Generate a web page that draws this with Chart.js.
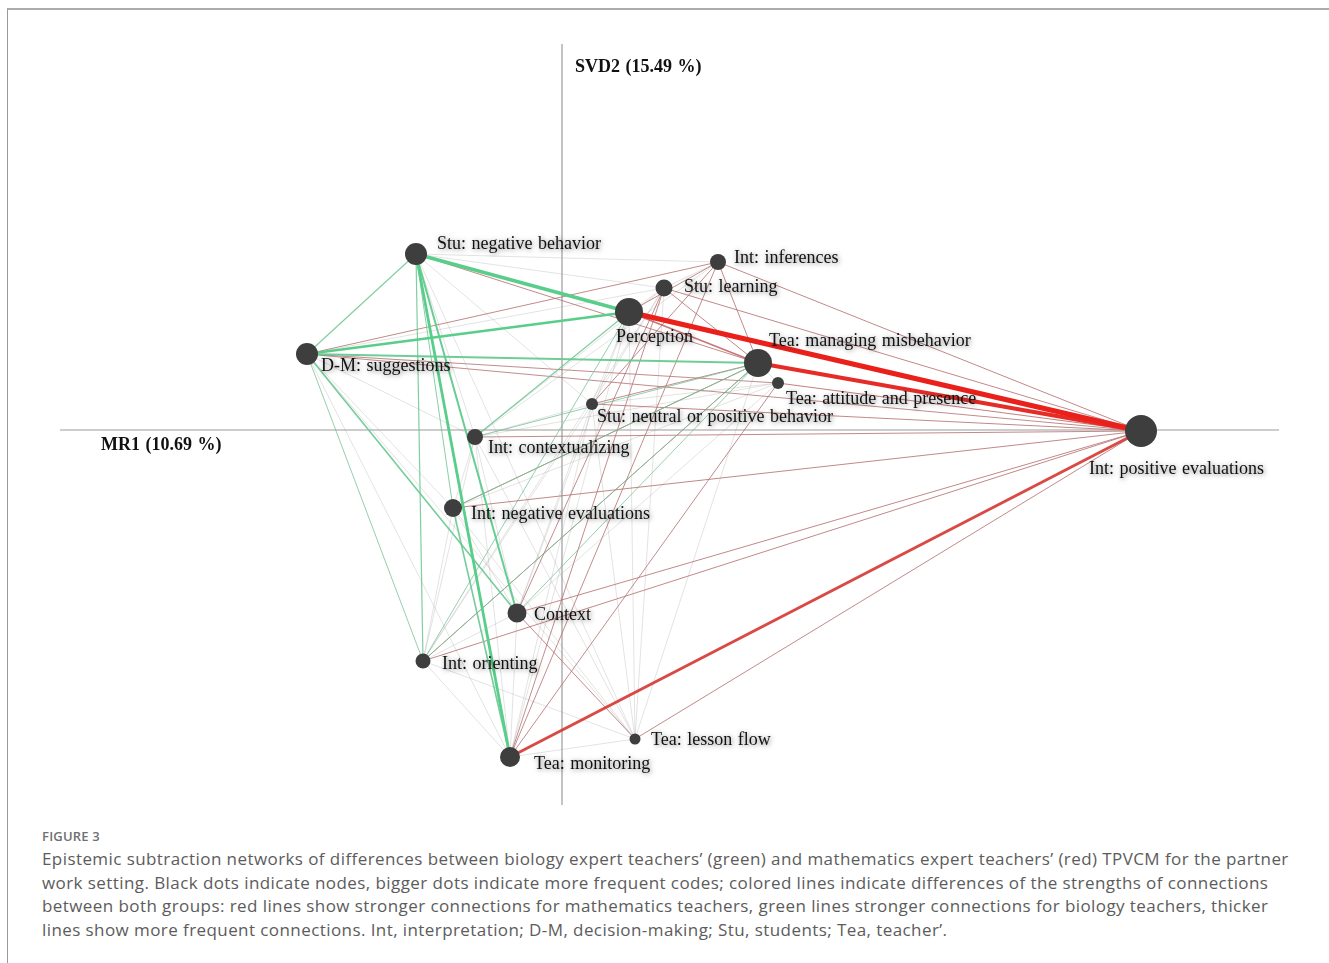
<!DOCTYPE html>
<html>
<head>
<meta charset="utf-8">
<script src="https://cdn.jsdelivr.net/npm/chart.js@4.4.1/dist/chart.umd.min.js"></script>
<style>
    html, body { margin: 0; padding: 0; background: #fff; }
    body { width: 1329px; height: 963px; position: relative; overflow: hidden; }
    .frame {
        position: absolute; left: 7px; top: 8px; width: 1330px; height: 960px;
        border-top: 2px solid #acacac; border-left: 1px solid #9a9a9a;
    }
    .chart-box { position: absolute; left: 0; top: 0; width: 1329px; height: 810px; }
    .caption {
        position: absolute; left: 42px; top: 827px; color: #5c5c5c;
        font-family: "Open Sans", Lato, sans-serif; white-space: nowrap;
    }
    .caption .fig { font-size: 13px; font-weight: 600; color: #707070; line-height: 18px; letter-spacing: 0.2px; margin-bottom: 2px; }
    .caption .txt { font-size: 17px; line-height: 23.6px; letter-spacing: 0.42px; }
</style>
</head>
<body>
<div class="frame"></div>
<div class="chart-box"><canvas id="enaChart"></canvas></div>
<div class="caption">
    <div class="fig">FIGURE 3</div>
    <div class="txt">Epistemic subtraction networks of differences between biology expert teachers’ (green) and mathematics expert teachers’ (red) TPVCM for the partner<br>work setting. Black dots indicate nodes, bigger dots indicate more frequent codes; colored lines indicate differences of the strengths of connections<br>between both groups: red lines show stronger connections for mathematics teachers, green lines stronger connections for biology teachers, thicker<br>lines show more frequent connections. Int, interpretation; D-M, decision-making; Stu, students; Tea, teacher’.</div>
</div>

<script>
// --------- Données : noeuds (codes) ----------
const nodeCodes = ["SNB", "IINF", "SL", "P", "DM", "TMM", "TAP", "SNP", "IC", "IPE", "INE", "C", "IO", "TLF", "TM"];
const nodeNames = [
    "Stu: negative behavior", "Int: inferences", "Stu: learning", "Perception",
    "D-M: suggestions", "Tea: managing misbehavior", "Tea: attitude and presence",
    "Stu: neutral or positive behavior", "Int: contextualizing", "Int: positive evaluations",
    "Int: negative evaluations", "Context", "Int: orienting", "Tea: lesson flow", "Tea: monitoring"
];
const nodeX = [-1.46, 1.56, 1.02, 0.67, -2.55, 1.96, 2.16, 0.30, -0.87, 5.79, -1.09, -0.45, -1.39, 0.73, -0.52];
const nodeY = [1.76, 1.68, 1.42, 1.18, 0.76, 0.67, 0.47, 0.26, -0.07, -0.01, -0.78, -1.83, -2.31, -3.09, -3.27];
// fréquence relative des codes (taille des points)
const nodeFreq = [0.11, 0.08, 0.085, 0.14, 0.11, 0.14, 0.06, 0.06, 0.08, 0.16, 0.09, 0.095, 0.075, 0.055, 0.10];

// --------- Données : connexions (différence math - bio) ----------
// > 0 : plus forte chez les enseignants de maths (rouge), < 0 : biologie (vert)
const edgeFrom = [
    "P", "TMM", "TM", "P", "TAP",
    "SNB", "DM", "DM", "SNB", "SNB", "SNB", "SNB", "SNB", "DM", "DM", "IC", "INE", "INE", "IO", "IC", "IO", "C",
    "IINF", "SL", "SNB", "DM", "SNP", "IC", "INE", "C", "IO", "TLF", "IINF", "SL", "IINF", "IINF", "SL",
    "C", "SNP", "TMM", "TMM", "TAP", "SL", "IINF", "DM", "DM",
    "SNB", "SNB", "SNB", "SNB", "SNB", "DM", "DM", "DM", "DM", "DM", "IC", "IC", "IC", "IC", "IC",
    "INE", "INE", "INE", "C", "C", "C", "C", "IO", "IO", "IO", "IO", "TM", "TM", "TM", "TLF", "TLF",
    "TLF", "TLF", "TAP", "TAP", "TAP", "P", "P", "SL", "IINF", "IINF", "TMM", "TAP", "SNP", "IC"
];
const edgeTo = [
    "IPE", "IPE", "IPE", "TMM", "IPE",
    "P", "P", "TMM", "DM", "TM", "C", "IO", "INE", "C", "IO", "P", "TM", "TMM", "TMM", "TMM", "P", "TMM",
    "IPE", "IPE", "TMM", "IINF", "IPE", "IPE", "IPE", "IPE", "IPE", "IPE", "P", "TMM", "TMM", "TM", "C",
    "TLF", "TMM", "INE", "IO", "TM", "TM", "SNP", "IPE", "TAP",
    "SL", "IINF", "SNP", "IC", "TLF", "INE", "IC", "TM", "TLF", "SL", "INE", "C", "IO", "TM", "TLF",
    "C", "IO", "TLF", "TM", "IO", "P", "SNP", "TM", "TLF", "SL", "SNP", "TLF", "P", "SNP", "P", "SNP",
    "TMM", "SL", "C", "INE", "IC", "SNP", "SL", "SNP", "SL", "IC", "TAP", "SNP", "IC", "SL"
];
const edgeWeight = [
    0.26, 0.20, 0.15, 0.07, 0.05,
    -0.17, -0.12, -0.09, -0.06, -0.14, -0.10, -0.06, -0.05, -0.08, -0.03, -0.06, -0.08, -0.04, -0.03, -0.03, -0.025, -0.025,
    0.03, 0.03, 0.025, 0.025, 0.03, 0.025, 0.03, 0.03, 0.03, 0.025, 0.025, 0.03, 0.025, 0.02, 0.02,
    0.025, 0.02, 0.02, 0.02, 0.02, 0.02, 0.02, 0.02, 0.02,
    0.01, -0.01, 0.01, -0.01, -0.01, -0.01, -0.01, -0.01, -0.01, 0.01, -0.01, -0.01, -0.01, 0.01, -0.01,
    -0.01, -0.01, 0.01, -0.01, -0.01, 0.01, -0.01, -0.01, -0.01, 0.01, -0.01, 0.01, 0.01, 0.01, 0.01, -0.01,
    0.01, 0.01, 0.01, 0.01, 0.01, 0.01, 0.01, 0.01, 0.01, 0.01, 0.01, 0.01, -0.01, -0.01
];

// --------- Axes ----------
const axisNames = ["MR1 (10.69 %)", "SVD2 (15.49 %)"];
const axisXRange = [-5.02, 7.17];
const axisYRange = [-3.75, 3.86];

// --------- Mise en forme ----------
const labelOffsets = {
    SNB: [21, -10], IINF: [16, -4], SL: [20, -1], P: [-13, 25], DM: [14, 12],
    TMM: [11, -22], TAP: [8, 16], SNP: [5, 13], IC: [13, 11], IPE: [-52, 38],
    INE: [18, 6], C: [17, 2], IO: [19, 3], TLF: [16, 1], TM: [24, 7]
};

function edgeStyle(w) {
    const a = Math.abs(w);
    if (a < 0.015) return { color: "rgba(150,150,150,0.3)", width: 0.9 };
    const t = Math.min(1, (a - 0.02) / 0.2);
    let c;
    if (w > 0) {
        c = `rgba(${Math.round(178 + 56 * t)},${Math.round(112 - 80 * t)},${Math.round(112 - 86 * t)},${0.8 + 0.2 * t})`;
    } else {
        const s = Math.min(1, (a - 0.02) / 0.1);
        c = `rgba(${Math.round(120 - 32 * s)},${Math.round(192 + 14 * s)},${Math.round(150 - 12 * s)},${0.75 + 0.25 * s})`;
    }
    return { color: c, width: Math.max(1, a * 20) };
}

function nodeIndex(code) {
    return nodeCodes.indexOf(code);
}

function buildDatasets() {
    const datasets = [];

    // lignes des axes
    datasets.push({
        data: [{ x: axisXRange[0], y: 0 }, { x: axisXRange[1], y: 0 }],
        showLine: true, borderColor: "#9c9c9c", borderWidth: 1.2, pointRadius: 0, order: 5000
    });
    datasets.push({
        data: [{ x: 0, y: axisYRange[0] }, { x: 0, y: axisYRange[1] }],
        showLine: true, borderColor: "#9c9c9c", borderWidth: 1.2, pointRadius: 0, order: 5000
    });

    // connexions (les plus fortes au-dessus)
    edgeFrom.forEach((f, i) => {
        const a = nodeIndex(f);
        const b = nodeIndex(edgeTo[i]);
        const st = edgeStyle(edgeWeight[i]);
        datasets.push({
            data: [{ x: nodeX[a], y: nodeY[a] }, { x: nodeX[b], y: nodeY[b] }],
            showLine: true,
            borderColor: st.color,
            borderWidth: st.width,
            pointRadius: 0,
            order: 1000 - Math.round(Math.abs(edgeWeight[i]) * 1000)
        });
    });

    // noeuds
    datasets.push({
        data: nodeX.map((x, i) => ({ x: x, y: nodeY[i] })),
        pointRadius: nodeFreq.map(f => f * 100),
        pointBackgroundColor: "#3e3e3e",
        pointBorderWidth: 0,
        order: 0
    });

    return datasets;
}

// --------- Étiquettes (plugin) ----------
const labelPlugin = {
    id: "nodeLabels",
    afterDatasetsDraw(chart) {
        const ctx = chart.ctx;
        const xs = chart.scales.x;
        const ys = chart.scales.y;
        ctx.save();
        ctx.textBaseline = "middle";
        ctx.textAlign = "left";
        ctx.shadowColor = "rgba(0,0,0,0.5)";
        ctx.shadowBlur = 5;
        ctx.shadowOffsetX = 1;
        ctx.shadowOffsetY = 1;
        ctx.fillStyle = "#111";
        ctx.font = '18px "Liberation Serif", "DejaVu Serif", serif';
        ctx.wordSpacing = "1px";
        nodeNames.forEach((name, i) => {
            const off = labelOffsets[nodeCodes[i]];
            ctx.fillText(name, xs.getPixelForValue(nodeX[i]) + off[0], ys.getPixelForValue(nodeY[i]) + off[1]);
        });

        // titres des axes
        ctx.shadowColor = "rgba(0,0,0,0)";
        ctx.font = 'bold 18px "Liberation Serif", "DejaVu Serif", serif';
        ctx.fillText(axisNames[0], xs.getPixelForValue(axisXRange[0]) + 41, ys.getPixelForValue(0) + 15);
        ctx.fillText(axisNames[1], xs.getPixelForValue(0) + 13, ys.getPixelForValue(axisYRange[1]) + 23);
        ctx.restore();
    }
};

// --------- Graphique ----------
function drawChart() {
    const canvas = document.getElementById("enaChart");
    if (!canvas) return;

    new Chart(canvas.getContext("2d"), {
        type: "scatter",
        data: { datasets: buildDatasets() },
        options: {
            responsive: true,
            maintainAspectRatio: false,
            animation: false,
            events: [],
            layout: { padding: 0, autoPadding: false },
            plugins: { legend: { display: false }, tooltip: { enabled: false } },
            scales: {
                x: { type: "linear", min: -5.62, max: 7.67, display: false },
                y: { type: "linear", min: -3.80, max: 4.30, display: false }
            }
        },
        plugins: [labelPlugin]
    });
}

document.addEventListener("DOMContentLoaded", () => {
    drawChart();
});
</script>
</body>
</html>
